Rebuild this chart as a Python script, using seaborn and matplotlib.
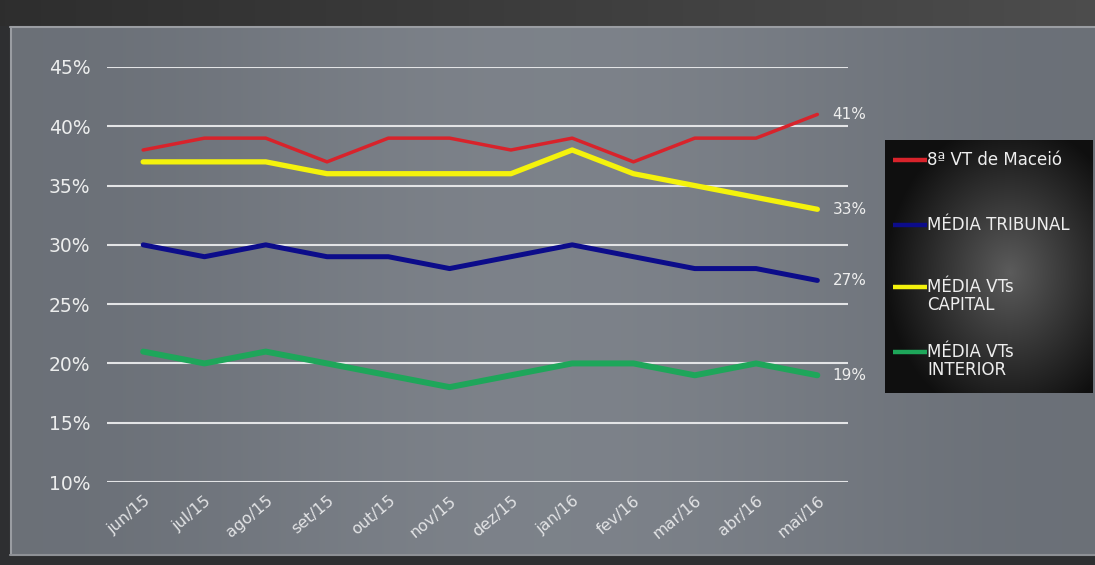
import matplotlib
matplotlib.use('Agg')
import matplotlib.pyplot as plt
import seaborn as sns
import numpy as np
import pandas as pd

# values (in %)
months = ['jun/15', 'jul/15', 'ago/15', 'set/15', 'out/15', 'nov/15',
          'dez/15', 'jan/16', 'fev/16', 'mar/16', 'abr/16', 'mai/16']
vt_maceio = [38, 39, 39, 37, 39, 39, 38, 39, 37, 39, 39, 41]
media_tribunal = [30, 29, 30, 29, 29, 28, 29, 30, 29, 28, 28, 27]
media_capital = [37, 37, 37, 36, 36, 36, 36, 38, 36, 35, 34, 33]
media_interior = [21, 20, 21, 20, 19, 18, 19, 20, 20, 19, 20, 19]
y_ticks = [10, 15, 20, 25, 30, 35, 40, 45]

series_names = ['8ª VT de Maceió', 'MÉDIA TRIBUNAL',
                'MÉDIA VTs\nCAPITAL', 'MÉDIA VTs\nINTERIOR']
series_values = [vt_maceio, media_tribunal, media_capital, media_interior]
colors = ['#d8232b', '#0c0c8a', '#f4f20c', '#1ea65a']
widths = [2.5, 3.6, 3.8, 4.3]

df = pd.DataFrame({
    'idx': list(range(len(months))) * 4,
    'valor': sum(series_values, []),
    'serie': np.repeat(series_names, len(months)),
})

sns.set_style('white')
plt.rcParams['font.family'] = ['DejaVu Sans']

W, H = 1095, 565
fig = plt.figure(figsize=(W / 100, H / 100), dpi=100)
fig.patch.set_facecolor('#2e2f31')

# background in pixel coordinates
bg = fig.add_axes([0, 0, 1, 1], zorder=-10)
bg.set_xlim(0, W)
bg.set_ylim(H, 0)
bg.axis('off')

t = np.linspace(0, 1, 400)
prof = 0.5 - 0.5 * np.cos(t * np.pi * 2)
base = np.array([0.42, 0.44, 0.47])
top = np.array([0.49, 0.51, 0.54])
row = base[None, :] + (top - base)[None, :] * prof[:, None]
bg.imshow(np.repeat(row[None], 10, axis=0), extent=[10, W, 555, 27],
          aspect='auto', zorder=0)
strip = np.linspace(0.18, 0.30, 400)[None, :, None].repeat(3, axis=2)
bg.imshow(strip.repeat(5, axis=0), extent=[0, W, 26, 0], aspect='auto', zorder=0)
bg.plot([10, W], [27, 27], color='#9a9da2', lw=1.5)
bg.plot([11, 11], [27, 555], color='#9a9da2', lw=1.5)
bg.plot([10, W], [555, 555], color='#8e9196', lw=1.5)

# legend box with dark radial gradient
lx0, lx1, ly0, ly1 = 885, 1093, 140, 393
gx, gy = np.meshgrid(np.linspace(-1, 1, 200), np.linspace(-1, 1, 250))
r = np.clip(np.sqrt((gx - 0.2) ** 2 + (gy - 0.05) ** 2) / 1.2, 0, 1)
shade = 0.36 - 0.30 * r
bg.imshow(np.dstack([shade] * 3), extent=[lx0, lx1, ly1, ly0], aspect='auto',
          zorder=1)
legend_tops = [160, 225, 287, 352]
for name, col, lw, yy in zip(series_names, colors, widths, legend_tops):
    bg.plot([893, 927], [yy, yy], color=col, lw=3.2, zorder=2,
            solid_capstyle='butt')
    bg.text(927, yy - 9, name, color='#eeeeee', fontsize=12, va='top',
            ha='left', zorder=3, linespacing=1.0)

# chart
ax = fig.add_axes([107 / W, 83 / H, 741 / W, 415 / H])
ax.patch.set_alpha(0)

sns.lineplot(data=df, x='idx', y='valor', hue='serie', hue_order=series_names,
             palette=colors, ax=ax, legend=False, sort=False)
for line, lw in zip(ax.get_lines(), widths):
    line.set_linewidth(lw)
    line.set_solid_capstyle('round')
    line.set_solid_joinstyle('round')

ax.set_xlim(-0.59, 11.5)
ax.set_ylim(10, 45)
ax.set_yticks(y_ticks)
ax.set_yticklabels([f'{v}%' for v in y_ticks])
ax.set_xticks(range(len(months)))
ax.set_xticklabels(months, rotation=40, ha='right', rotation_mode='anchor')
ax.tick_params(axis='x', colors='#e2e3e5', labelsize=11.5, length=0, pad=8)
ax.tick_params(axis='y', colors='#eceded', labelsize=13.5, length=0, pad=12)
ax.set_xlabel('')
ax.set_ylabel('')
for s in ax.spines.values():
    s.set_visible(False)
ax.grid(False)
for v in y_ticks:
    ax.axhline(v, color='#e3e4e6', lw=1.5, zorder=0)

# end-point labels
for vals in series_values:
    ax.annotate(f'{vals[-1]}%', (len(months) - 1, vals[-1]), xytext=(11, 0),
                textcoords='offset points', color='#eeeeee', fontsize=11,
                va='center', ha='left')

fig.savefig('out.png', dpi=100, facecolor=fig.get_facecolor())
plt.close()
